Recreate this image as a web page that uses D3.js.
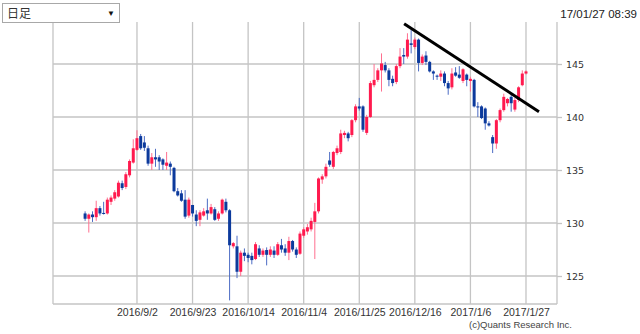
<!DOCTYPE html>
<html>
<head>
<meta charset="utf-8">
<script src="https://cdn.jsdelivr.net/npm/d3@7"></script>
<style>
body { margin: 0; background: #fff; font-family: "Liberation Sans", Arial, sans-serif; }
</style>
</head>
<body>
<script>
// daily candles, 2016/8/15 .. 2017/1/27 (weekdays)
const opens = [130.9,130.4,130.8,130.55,131.4,130.95,130.9,132.0,132.3,132.5,
133.75,133.4,134.5,135.7,136.9,138.2,137.6,137.05,135.6,136.2,
136.2,136.0,135.4,135.6,135.2,133.0,132.8,132.2,130.7,131.7,
130.8,130.3,130.7,131.2,130.9,131.3,130.4,130.9,132.0,131.2,
127.8,127.8,125.4,127.2,127.0,126.9,126.6,127.6,127.0,127.45,
127.0,127.4,127.0,127.9,127.6,127.2,128.3,127.5,127.1,128.8,
129.2,129.4,130.1,131.1,134.1,134.4,135.9,135.3,136.6,136.7,
138.3,138.45,138.3,139.7,141.0,141.0,138.5,140.0,143.0,143.5,
144.4,144.9,144.4,143.6,143.3,144.8,145.85,145.7,146.95,146.6,
147.3,145.1,145.8,145.2,144.3,143.9,143.8,144.1,143.2,142.8,
144.2,144.0,143.4,144.0,143.4,143.5,141.0,141.0,140.8,139.4,
138.1,137.5,139.7,140.65,141.3,141.9,140.7,141.6,143.0,144.1];
const highs = [131.1,130.9,131.1,132.1,131.6,132.0,132.4,132.6,133.1,134.0,
134.0,134.8,136.0,137.9,138.75,138.4,138.2,137.3,136.6,137.0,
136.4,136.1,136.7,135.8,135.3,133.3,133.1,133.1,132.4,131.7,
131.2,131.2,131.4,132.3,131.8,131.5,131.1,132.3,132.3,131.3,
128.2,128.8,127.4,127.6,127.2,127.2,128.2,127.9,127.6,127.7,
127.8,127.8,128.2,128.5,128.0,128.7,128.4,127.7,129.2,129.6,
129.9,130.5,131.9,134.3,134.6,135.6,136.7,136.8,137.3,138.8,
138.7,138.6,139.8,141.2,141.8,141.1,140.2,143.4,145.0,144.6,
146.0,145.2,144.6,143.9,145.0,146.5,146.5,147.9,148.2,147.5,
147.4,145.9,146.2,145.3,144.4,144.0,144.4,144.3,143.4,144.6,
144.7,144.8,144.6,144.1,143.8,143.6,141.4,141.1,140.9,139.6,
138.3,139.8,140.8,142.2,141.8,142.1,141.8,142.9,144.4,144.4];
const lows = [130.2,129.1,130.1,130.2,130.7,130.8,130.8,131.7,132.1,132.4,
133.1,133.2,134.3,135.6,136.8,136.9,136.8,135.4,135.0,135.3,
135.0,135.0,135.0,134.5,132.9,132.5,132.0,130.4,130.5,130.6,
129.7,129.7,130.6,130.3,130.8,130.2,130.2,130.8,131.0,122.7,
127.6,124.8,125.0,126.4,126.3,126.1,126.5,126.8,126.8,126.0,
126.8,126.7,126.9,127.2,126.9,126.5,127.3,126.7,127.0,128.6,
128.9,129.2,126.6,130.9,133.7,134.2,135.3,135.1,136.4,136.5,
138.0,137.7,138.1,139.5,140.6,138.6,138.3,139.9,142.8,143.3,
142.4,144.2,142.9,142.9,143.1,144.6,145.0,145.5,146.0,146.4,
144.3,144.9,144.9,144.2,143.5,143.5,143.4,142.9,142.1,142.6,
143.8,143.6,143.2,142.9,142.4,140.9,140.0,139.8,138.8,139.1,
136.6,137.0,139.5,140.5,141.0,140.5,140.5,141.4,142.9,144.0];
const closes = [130.4,130.8,130.55,131.4,130.9,130.85,132.2,132.4,132.9,133.8,
133.3,134.6,135.85,137.05,138.0,137.05,137.1,135.6,136.2,136.0,
135.8,135.5,135.7,135.3,133.0,132.6,132.1,130.6,132.2,130.9,
130.2,131.0,131.1,130.9,131.5,130.3,130.9,132.2,131.2,127.9,
128.1,125.4,127.2,126.9,126.7,126.5,128.0,127.0,127.4,127.0,
127.5,127.0,128.0,127.5,127.2,128.3,127.5,127.0,129.0,129.4,
129.6,130.2,131.1,134.2,134.4,135.3,135.5,136.7,137.05,138.45,
138.5,138.0,139.7,141.0,140.8,138.8,140.0,143.2,143.5,144.4,
145.05,144.4,143.5,143.2,144.8,145.7,145.7,147.3,146.8,147.3,
145.1,145.7,145.2,144.3,144.1,143.8,144.1,143.2,142.7,144.1,
143.9,143.7,144.5,143.5,143.6,141.0,140.9,139.9,139.4,139.2,
137.5,139.7,140.65,141.9,141.7,141.3,141.6,142.8,144.1,144.3];

const tickIdx = [14, 29, 44, 59, 74, 89, 104, 119];
const tickLabels = ["2016/9/2", "2016/9/23", "2016/10/14", "2016/11/4", "2016/11/25", "2016/12/16", "2017/1/6", "2017/1/27"];
const yTicks = [125, 130, 135, 140, 145];
// hand drawn resistance line (index, price)
const trendLine = [{i: 86.1, v: 148.8}, {i: 122.5, v: 140.5}];

const plotL = 53, plotR = 557, plotT = 22, plotB = 304;

const svg = d3.select("body").append("svg")
    .attr("width", 640)
    .attr("height", 334);

const x = d3.scaleLinear().domain([0, 119]).range([85.1, 526]);
const y = d3.scaleLinear().domain([125, 145]).range([276, 64]);

const candles = opens.map((o, i) => ({i: i, o: o, h: highs[i], l: lows[i], c: closes[i]}));

// grid
const grid = svg.append("g").attr("stroke", "#c4c4c4").attr("stroke-width", 1.3);
grid.selectAll(".vg").data(tickIdx).enter().append("line")
    .attr("x1", d => x(d)).attr("x2", d => x(d))
    .attr("y1", plotT).attr("y2", plotB);
grid.selectAll(".hg").data(yTicks).enter().append("line")
    .attr("x1", plotL).attr("x2", plotR)
    .attr("y1", d => y(d)).attr("y2", d => y(d));
grid.append("line").attr("x1", plotL).attr("x2", plotL).attr("y1", plotT).attr("y2", plotB);
grid.append("line").attr("x1", plotR).attr("x2", plotR).attr("y1", plotT).attr("y2", plotB);
grid.append("line").attr("x1", plotL).attr("x2", plotR).attr("y1", plotB).attr("y2", plotB);

// y axis on the right
const yAxis = svg.append("g")
    .attr("transform", `translate(${plotR},0)`)
    .call(d3.axisRight(y).tickValues(yTicks).tickSize(5).tickPadding(4));
yAxis.select(".domain").remove();
yAxis.selectAll("line").attr("stroke", "#c4c4c4").attr("stroke-width", 1.3);
yAxis.selectAll("text").attr("fill", "#333").style("font-size", "9.5px")
    .style("font-family", "'DejaVu Sans', sans-serif");

// x axis labels
const xAxis = svg.append("g")
    .attr("transform", `translate(0,${plotB})`)
    .call(d3.axisBottom(x).tickValues(tickIdx).tickFormat((d, i) => tickLabels[i]).tickSize(0).tickPadding(5));
xAxis.select(".domain").remove();
xAxis.selectAll("text").attr("fill", "#333").style("font-size", "10.5px")
    .style("font-family", "'Liberation Sans', Arial, sans-serif");

// candles
const cg = svg.append("g");
cg.selectAll(".wick").data(candles).enter().append("line")
    .attr("x1", d => x(d.i)).attr("x2", d => x(d.i))
    .attr("y1", d => y(d.h)).attr("y2", d => y(d.l))
    .attr("stroke", d => d.c >= d.o ? "#ff6f8f" : "#4c6cc4")
    .attr("stroke-width", 1);
cg.selectAll(".body").data(candles).enter().append("rect")
    .attr("x", d => x(d.i) - 1.5)
    .attr("width", 3)
    .attr("y", d => y(Math.max(d.o, d.c)))
    .attr("height", d => Math.max(1, Math.abs(y(d.o) - y(d.c))))
    .attr("fill", d => d.c >= d.o ? "#ff1a4e" : "#0c3a9c");

// trend line
svg.append("path")
    .datum(trendLine)
    .attr("d", d3.line().x(d => x(d.i)).y(d => y(d.v)))
    .attr("stroke", "#000")
    .attr("stroke-width", 3)
    .attr("fill", "none");

// header
svg.append("rect")
    .attr("x", 2.5).attr("y", 3.5).attr("width", 117).attr("height", 19)
    .attr("fill", "#fff").attr("stroke", "#a8a8a8");
svg.append("text")
    .attr("x", 7).attr("y", 17.5)
    .attr("fill", "#333")
    .style("font-size", "12px")
    .style("font-family", "'Noto Sans CJK JP', sans-serif")
    .text("日足");
svg.append("text")
    .attr("x", 111).attr("y", 16)
    .attr("text-anchor", "middle")
    .attr("fill", "#111")
    .style("font-size", "8px")
    .text("▼");
svg.append("text")
    .attr("x", 637).attr("y", 18)
    .attr("text-anchor", "end")
    .attr("fill", "#222")
    .style("font-size", "11.5px")
    .text("17/01/27 08:39");

svg.append("text")
    .attr("x", 572).attr("y", 328)
    .attr("text-anchor", "end")
    .attr("fill", "#444")
    .style("font-size", "9.5px")
    .text("(c)Quants Research Inc.");
</script>
</body>
</html>
